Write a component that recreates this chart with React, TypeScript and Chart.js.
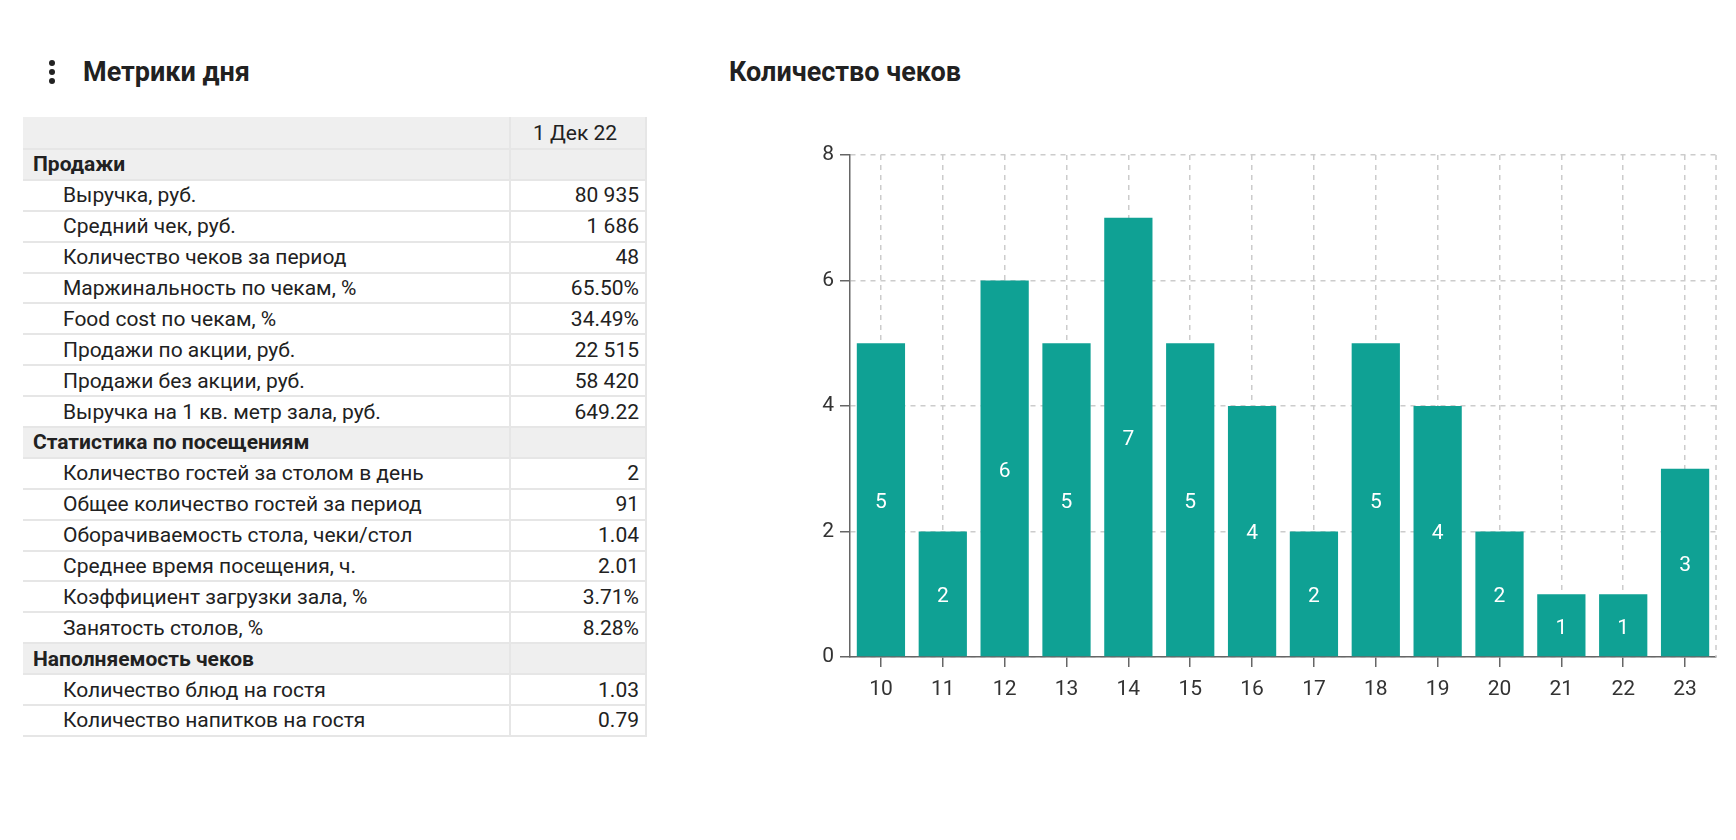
import React, { useEffect, useRef } from "react";
import { Chart, registerables } from "chart.js";

Chart.register(...registerables);

// ---- chart data ----
const hours: string[] = ["10", "11", "12", "13", "14", "15", "16", "17", "18", "19", "20", "21", "22", "23"];
const checkCounts: number[] = [5, 2, 6, 5, 7, 5, 4, 2, 5, 4, 2, 1, 1, 3];
const yMax = 8;
const yStep = 2;

// ---- table data ----
const columnHeader = "1 Дек 22";
const sectionTitles: string[] = ["Продажи", "Статистика по посещениям", "Наполняемость чеков"];
const salesLabels: string[] = [
  "Выручка, руб.",
  "Средний чек, руб.",
  "Количество чеков за период",
  "Маржинальность по чекам, %",
  "Food cost по чекам, %",
  "Продажи по акции, руб.",
  "Продажи без акции, руб.",
  "Выручка на 1 кв. метр зала, руб.",
];
const salesValues: string[] = ["80 935", "1 686", "48", "65.50%", "34.49%", "22 515", "58 420", "649.22"];
const visitLabels: string[] = [
  "Количество гостей за столом в день",
  "Общее количество гостей за период",
  "Оборачиваемость стола, чеки/стол",
  "Среднее время посещения, ч.",
  "Коэффициент загрузки зала, %",
  "Занятость столов, %",
];
const visitValues: string[] = ["2", "91", "1.04", "2.01", "3.71%", "8.28%"];
const fillLabels: string[] = ["Количество блюд на гостя", "Количество напитков на гостя"];
const fillValues: string[] = ["1.03", "0.79"];

const FONT = "Roboto, 'Noto Sans', sans-serif";
const TEXT = "#212121";
const LINE = "#e6e6e6";
const GRAY_BG = "#efefef";
const BAR = "#0fa194";

const ROW_H = 30.9;
const HEADER_H = 33;

function Row(props: { label: string; value?: string; section?: boolean; header?: boolean }) {
  const { label, value, section, header } = props;
  const bg = section || header ? GRAY_BG : "#fff";
  return (
    <div
      style={{
        display: "flex",
        height: header ? HEADER_H : ROW_H,
        boxSizing: "border-box",
        borderBottom: `2px solid ${LINE}`,
        background: bg,
      }}
    >
      <div
        style={{
          width: 488,
          boxSizing: "border-box",
          borderRight: `2px solid ${LINE}`,
          paddingLeft: section ? 10 : 40,
          display: "flex",
          alignItems: "center",
          fontWeight: section ? 700 : 400,
          whiteSpace: "nowrap",
        }}
      >
        {label}
      </div>
      <div
        style={{
          flex: 1,
          boxSizing: "border-box",
          borderRight: `2px solid ${LINE}`,
          paddingRight: 6,
          display: "flex",
          alignItems: "center",
          justifyContent: header ? "center" : "flex-end",
        }}
      >
        {value ?? ""}
      </div>
    </div>
  );
}

const barLabelPlugin = {
  id: "barLabels",
  afterDatasetsDraw(chart: any) {
    const { ctx } = chart;
    const meta = chart.getDatasetMeta(0);
    const data = chart.data.datasets[0].data as number[];
    ctx.save();
    ctx.fillStyle = "#ffffff";
    ctx.font = `21px ${FONT}`;
    ctx.textAlign = "center";
    ctx.textBaseline = "middle";
    meta.data.forEach((el: any, i: number) => {
      const { x, y, base } = el.getProps(["x", "y", "base"], true);
      ctx.fillText(String(data[i]), x, (y + base) / 2 + 3);
    });
    ctx.restore();
  },
};

const rightEdgePlugin = {
  id: "rightEdge",
  beforeDatasetsDraw(chart: any) {
    const { ctx, chartArea } = chart;
    ctx.save();
    ctx.strokeStyle = "#cccccc";
    ctx.lineWidth = 1.5;
    ctx.setLineDash([5, 5]);
    ctx.beginPath();
    ctx.moveTo(chartArea.right, chartArea.top);
    ctx.lineTo(chartArea.right, chartArea.bottom);
    ctx.stroke();
    ctx.restore();
  },
};

function ChecksChart() {
  const ref = useRef<HTMLCanvasElement | null>(null);
  useEffect(() => {
    if (!ref.current) return;
    const chart = new Chart(ref.current, {
      type: "bar",
      data: {
        labels: hours,
        datasets: [
          {
            data: checkCounts,
            backgroundColor: BAR,
            borderWidth: 0,
            categoryPercentage: 1,
            barPercentage: 0.78,
          },
        ],
      },
      plugins: [rightEdgePlugin, barLabelPlugin],
      options: {
        animation: false,
        responsive: false,
        devicePixelRatio: 1,
        layout: { padding: { left: 0, right: 20, top: 25, bottom: 13 } },
        plugins: { legend: { display: false }, tooltip: { enabled: false } },
        scales: {
          x: {
            grid: {
              offset: false,
              color: "#cccccc",
              lineWidth: 1.5,
              tickColor: "#666666",
              tickWidth: 1.5,
              tickLength: 10,
            },
            border: { display: true, color: "#666666", width: 1.5, dash: [5, 5] },
            ticks: { color: "#333333", font: { family: FONT, size: 21 }, padding: 10 },
            afterFit: (s: any) => {
              s.height = 60;
            },
          },
          y: {
            min: 0,
            max: yMax,
            ticks: { stepSize: yStep, color: "#333333", font: { family: FONT, size: 21 }, padding: 6 },
            grid: {
              color: "#cccccc",
              lineWidth: 1.5,
              tickColor: "#666666",
              tickWidth: 1.5,
              tickLength: 10,
            },
            border: { display: true, color: "#666666", width: 1.5, dash: [5, 5] },
            afterFit: (s: any) => {
              s.width = 70;
            },
          },
        },
      },
    });
    return () => chart.destroy();
  }, []);
  return (
    <canvas
      ref={ref}
      width={956}
      height={600}
      style={{ position: "absolute", left: 780, top: 130, width: 956, height: 600 }}
    />
  );
}

export default function App() {
  return (
    <div
      style={{
        position: "absolute",
        left: 0,
        top: 0,
        width: 1736,
        height: 840,
        background: "#fff",
        fontFamily: FONT,
        color: TEXT,
        fontSize: 21,
        overflow: "hidden",
      }}
    >
      {/* menu dots */}
      <div style={{ position: "absolute", left: 49, top: 60 }}>
        {[0, 1, 2].map((i) => (
          <div
            key={i}
            style={{ width: 6, height: 6, borderRadius: 3, background: "#222", marginBottom: i < 2 ? 3 : 0 }}
          />
        ))}
      </div>
      <div
        style={{
          position: "absolute",
          left: 83,
          top: 55,
          fontSize: 27,
          fontWeight: 700,
          lineHeight: "34px",
          whiteSpace: "nowrap",
        }}
      >
        Метрики дня
      </div>
      <div
        style={{
          position: "absolute",
          left: 729,
          top: 55,
          fontSize: 27,
          fontWeight: 700,
          lineHeight: "34px",
          whiteSpace: "nowrap",
        }}
      >
        Количество чеков
      </div>

      {/* table */}
      <div style={{ position: "absolute", left: 23, top: 117, width: 624 }}>
        <Row label="" value={columnHeader} header />
        <Row label={sectionTitles[0]} section />
        {salesLabels.map((l, i) => (
          <Row key={"s" + i} label={l} value={salesValues[i]} />
        ))}
        <Row label={sectionTitles[1]} section />
        {visitLabels.map((l, i) => (
          <Row key={"v" + i} label={l} value={visitValues[i]} />
        ))}
        <Row label={sectionTitles[2]} section />
        {fillLabels.map((l, i) => (
          <Row key={"f" + i} label={l} value={fillValues[i]} />
        ))}
      </div>

      <ChecksChart />
    </div>
  );
}
